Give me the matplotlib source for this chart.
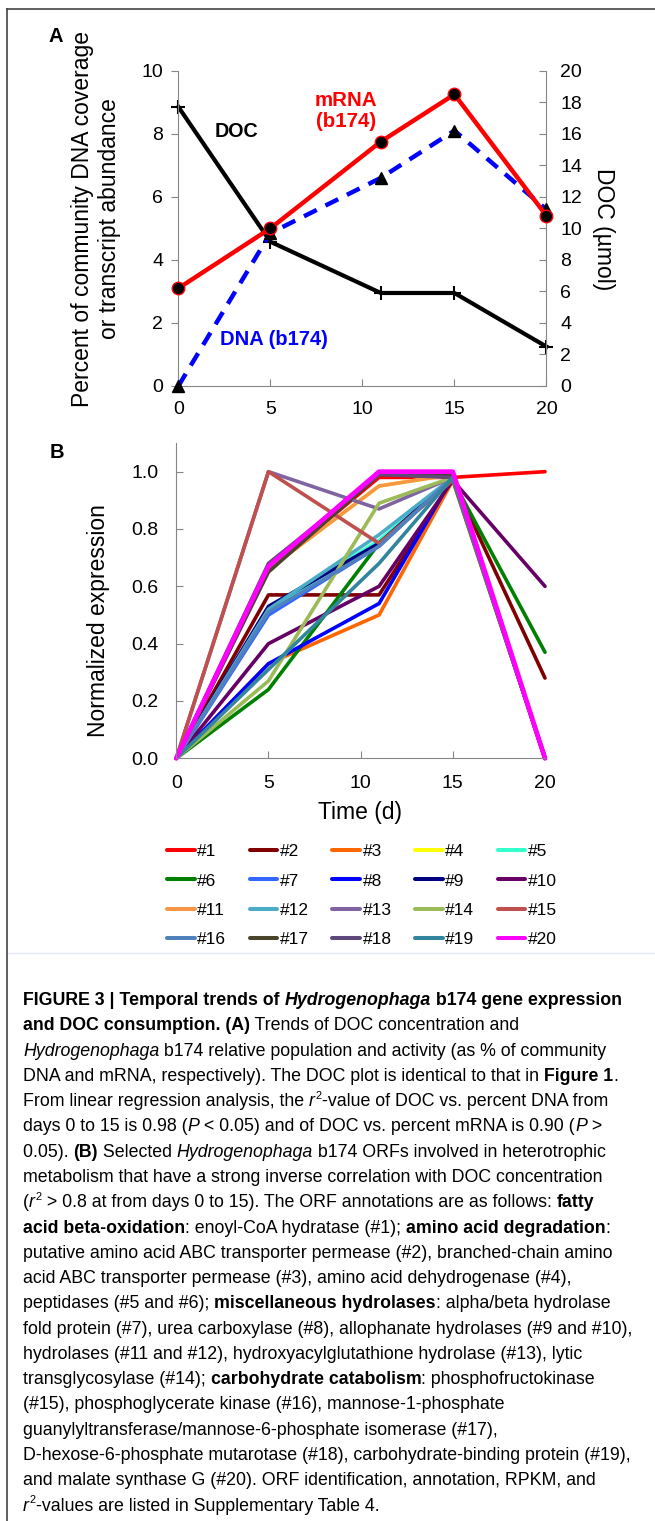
import matplotlib
matplotlib.use("Agg")
import matplotlib.pyplot as plt
from matplotlib import font_manager
from matplotlib.lines import Line2D
import numpy as np

# ---------------- data ----------------
time_days = [0, 5, 11, 15, 20]

# Panel A
mrna_pct = [3.1, 5.0, 7.75, 9.25, 5.4]
dna_pct = [0.0, 4.85, 6.6, 8.1, 5.6]
doc_umol = [17.7, 9.15, 5.9, 5.9, 2.5]

# Panel B (normalized expression of ORFs #1..#20)
orf_labels = ["#%d" % i for i in range(1, 21)]
orf_colors = ["#FF0000", "#800000", "#FF6600", "#FFFF00", "#33FFCC",
              "#008000", "#3366FF", "#0000FF", "#000080", "#660066",
              "#F79646", "#4BACC6", "#8064A2", "#9BBB59", "#C0504D",
              "#4F81BD", "#494429", "#5F497A", "#31859C", "#FF00FF"]
orf_values = [
    [0, 0.66, 0.98, 0.98, 1.00],   # 1
    [0, 0.57, 0.57, 0.97, 0.28],   # 2
    [0, 0.33, 0.50, 0.97, 0.00],   # 3
    [0, 0.66, 0.95, 0.99, 0.00],   # 4
    [0, 0.52, 0.76, 0.98, 0.00],   # 5
    [0, 0.24, 0.75, 0.97, 0.37],   # 6
    [0, 0.50, 0.74, 0.98, 0.00],   # 7
    [0, 0.33, 0.54, 0.98, 0.00],   # 8
    [0, 0.53, 0.75, 0.98, 0.00],   # 9
    [0, 0.40, 0.60, 0.97, 0.60],   # 10
    [0, 0.66, 0.95, 0.99, 0.00],   # 11
    [0, 0.52, 0.78, 0.98, 0.00],   # 12
    [0, 1.00, 0.87, 0.98, 0.00],   # 13
    [0, 0.27, 0.89, 0.98, 0.00],   # 14
    [0, 1.00, 0.75, 0.97, 0.00],   # 15
    [0, 0.51, 0.74, 0.98, 0.00],   # 16
    [0, 0.65, 0.99, 0.99, 0.00],   # 17
    [0, 0.68, 0.99, 0.98, 0.00],   # 18
    [0, 0.31, 0.68, 0.98, 0.00],   # 19
    [0, 0.67, 1.00, 1.00, 0.00],   # 20
]

caption_lines = [
    [("FIGURE 3 | Temporal trends of ", "b"), ("Hydrogenophaga", "bi"), (" b174 gene expression", "b")],
    [("and DOC consumption. (A)", "b"), (" Trends of DOC concentration and", "n")],
    [("Hydrogenophaga", "i"), (" b174 relative population and activity (as % of community", "n")],
    [("DNA and mRNA, respectively). The DOC plot is identical to that in ", "n"), ("Figure 1", "b"), (".", "n")],
    [("From linear regression analysis, the ", "n"), ("r", "i"), ("2", "s"), ("-value of DOC vs. percent DNA from", "n")],
    [("days 0 to 15 is 0.98 (", "n"), ("P", "i"), (" < 0.05) and of DOC vs. percent mRNA is 0.90 (", "n"), ("P", "i"), (" >", "n")],
    [("0.05). ", "n"), ("(B)", "b"), (" Selected ", "n"), ("Hydrogenophaga", "i"), (" b174 ORFs involved in heterotrophic", "n")],
    [("metabolism that have a strong inverse correlation with DOC concentration", "n")],
    [("(", "n"), ("r", "i"), ("2", "s"), (" > 0.8 at from days 0 to 15). The ORF annotations are as follows: ", "n"), ("fatty", "b")],
    [("acid beta-oxidation", "b"), (": enoyl-CoA hydratase (#1); ", "n"), ("amino acid degradation", "b"), (":", "n")],
    [("putative amino acid ABC transporter permease (#2), branched-chain amino", "n")],
    [("acid ABC transporter permease (#3), amino acid dehydrogenase (#4),", "n")],
    [("peptidases (#5 and #6); ", "n"), ("miscellaneous hydrolases", "b"), (": alpha/beta hydrolase", "n")],
    [("fold protein (#7), urea carboxylase (#8), allophanate hydrolases (#9 and #10),", "n")],
    [("hydrolases (#11 and #12), hydroxyacylglutathione hydrolase (#13), lytic", "n")],
    [("transglycosylase (#14); ", "n"), ("carbohydrate catabolism", "b"), (": phosphofructokinase", "n")],
    [("(#15), phosphoglycerate kinase (#16), mannose-1-phosphate", "n")],
    [("guanylyltransferase/mannose-6-phosphate isomerase (#17),", "n")],
    [("D-hexose-6-phosphate mutarotase (#18), carbohydrate-binding protein (#19),", "n")],
    [("and malate synthase G (#20). ORF identification, annotation, RPKM, and", "n")],
    [("r", "i"), ("2", "s"), ("-values are listed in Supplementary Table 4.", "n")],
]

# ---------------- figure ----------------
plt.rcParams["font.family"] = ["Liberation Sans", "DejaVu Sans"]
W, H = 655, 1521
fig = plt.figure(figsize=(W / 100, H / 100), dpi=100)
renderer = fig.canvas.get_renderer()

def fx(px):
    return px / W

def fy(py):
    return 1 - py / H

GRAY = "#868686"

# ---- Panel A ----
axA = fig.add_axes([fx(178.4), fy(386), (546.4 - 178.4) / W, (386 - 70.7) / H])
axR = axA.twinx()
axA.set_zorder(axR.get_zorder() + 1)
axA.patch.set_visible(False)

axR.plot(time_days, doc_umol, color="black", lw=3.0, marker="+", ms=10, mew=1.5,
         clip_on=False, zorder=2)
axA.plot(time_days, dna_pct, color="#0000FF", lw=3.2, ls=(0, (3.2, 2.2)), marker="^",
         ms=8, mfc="black", mec="black", clip_on=False, zorder=3)
axA.plot(time_days, mrna_pct, color="#FF0000", lw=3.2, marker="o", ms=9,
         mfc="black", mec="#FF0000", mew=1.0, clip_on=False, zorder=4)

axA.set_xlim(0, 20)
axA.set_ylim(0, 10)
axR.set_ylim(0, 20)
axA.set_xticks([0, 5, 10, 15, 20])
axA.set_yticks(np.arange(0, 11, 2))
axR.set_yticks(np.arange(0, 21, 2))
for s in ["top", "right"]:
    axA.spines[s].set_visible(False)
for s in ["top", "left", "bottom"]:
    axR.spines[s].set_visible(False)
axA.spines["left"].set_color(GRAY)
axA.spines["bottom"].set_color(GRAY)
axR.spines["right"].set_color(GRAY)
axA.tick_params(axis="y", direction="out", length=5, color=GRAY, labelsize=14, pad=6)
axA.tick_params(axis="x", direction="in", length=5, color=GRAY, labelsize=14, pad=11)
axR.tick_params(axis="y", direction="in", length=5, color=GRAY, labelsize=14, pad=10)

axA.text(3.13, 8.07, "DOC", color="black", fontweight="bold", fontsize=14.2,
         ha="center", va="center")
axA.text(9.1, 8.73, "mRNA\n(b174)", color="#FF0000", fontweight="bold", fontsize=14.8,
         ha="center", va="center", linespacing=1.15)
axA.text(5.2, 1.46, "DNA (b174)", color="#0000FF", fontweight="bold", fontsize=14.5,
         ha="center", va="center")

fig.text(fx(96), fy(219), "Percent of community DNA coverage\nor transcript abundance",
         rotation=90, ha="center", va="center", fontsize=16.5, linespacing=1.25)
fig.text(fx(604), fy(229), "DOC (\u00b5mol)", rotation=-90, ha="center", va="center",
         fontsize=16.5)
fig.text(fx(56), fy(37), "A", fontweight="bold", fontsize=14.5, ha="center", va="center")

# ---- Panel B ----
axB = fig.add_axes([fx(176.3), fy(758.3), (545 - 176.3) / W, (758.3 - 443) / H])
lines = []
for i, (vals, col, lab) in enumerate(zip(orf_values, orf_colors, orf_labels)):
    lw = 3.4 if lab == "#20" else 2.6
    ln, = axB.plot(time_days, vals, color=col, lw=lw, label=lab, clip_on=False,
                   solid_capstyle="round", zorder=2 + i * 0.01)
    lines.append(ln)
axB.set_xlim(0, 20)
axB.set_ylim(0, 1.1)
axB.set_xticks([0, 5, 10, 15, 20])
axB.set_yticks(np.arange(0, 1.01, 0.2))
axB.set_yticklabels(["%.1f" % v for v in np.arange(0, 1.01, 0.2)])
for s in ["top", "right"]:
    axB.spines[s].set_visible(False)
axB.spines["left"].set_color(GRAY)
axB.spines["bottom"].set_color(GRAY)
axB.tick_params(axis="both", direction="in", length=5, color=GRAY, labelsize=14)
axB.tick_params(axis="y", pad=13)
axB.tick_params(axis="x", pad=12)
fig.text(fx(98), fy(621), "Normalized expression", rotation=90, ha="center", va="center",
         fontsize=16.5)
fig.text(fx(360), fy(813), "Time (d)", ha="center", va="center", fontsize=16.5)
fig.text(fx(57), fy(453), "B", fontweight="bold", fontsize=14.5, ha="center", va="center")

# legend: 4 rows x 5 columns, filled row-wise
order = [r * 5 + c for c in range(5) for r in range(4)]
leg_handles = [Line2D([0], [0], color=orf_colors[k], lw=2.9, solid_capstyle="round")
               for k in order]
leg_labels = [orf_labels[k] for k in order]
fig.legend(leg_handles, leg_labels, loc="upper left", bbox_to_anchor=(fx(167), fy(844)),
           ncol=5, frameon=False, borderpad=0, borderaxespad=0, handlelength=1.6,
           handletextpad=0.15, columnspacing=1.34, labelspacing=0.82,
           prop={"size": 12.5})

# separator and frame
fig.add_artist(Line2D([fx(7), 1], [fy(953), fy(953)], color="#e3e9f5", lw=1))
fig.add_artist(Line2D([fx(7), 1], [fy(9), fy(9)], color="#444444", lw=1.2))
fig.add_artist(Line2D([fx(7), fx(7)], [fy(9), 0], color="#444444", lw=1.2))

# ---- caption ----
names = {f.name for f in font_manager.fontManager.ttflist}
cap_family = "Liberation Sans Narrow" if "Liberation Sans Narrow" in names else "Liberation Sans"

def props(style, size):
    return dict(family=cap_family, fontsize=size,
                fontweight="bold" if "b" in style else "normal",
                fontstyle="italic" if "i" in style else "normal")

def measure(s, **kw):
    t = fig.text(0, 0, s, **kw)
    w = t.get_window_extent(renderer).width
    t.remove()
    return w

def seg_width(s, **kw):
    return measure(s + "|", **kw) - measure("|", **kw)

ref = caption_lines[13][0][0]
w10 = seg_width(ref, **props("n", 10))
cap_size = 10 * 610.0 / w10
size_px = cap_size * 100 / 72.0

x0 = 23.0
base0 = 1005.0
pitch = 25.28
for li, segs in enumerate(caption_lines):
    x = x0
    yb = base0 + li * pitch
    for text, style in segs:
        if style == "s":
            sz = cap_size * 0.62
            kw = props("n", sz)
            fig.text(fx(x + 0.5), fy(yb - 0.42 * size_px), text, ha="left", va="baseline", **kw)
            x += seg_width(text, **kw) + 1.5
        else:
            kw = props(style, cap_size)
            fig.text(fx(x), fy(yb), text, ha="left", va="baseline", **kw)
            x += seg_width(text, **kw)

fig.savefig("out.png", dpi=100)
